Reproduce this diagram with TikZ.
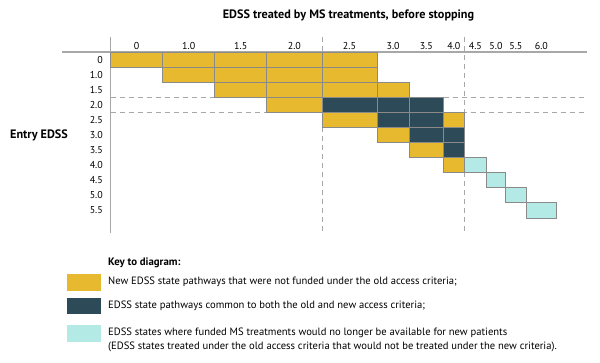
\documentclass[tikz,border=0pt]{standalone}
\usepackage{fontspec}
\setmainfont{PT Sans}
\usetikzlibrary{positioning,calc}
\definecolor{edssgold}{HTML}{E6B92F}
\definecolor{edssnavy}{HTML}{2C4A58}
\definecolor{edssaqua}{HTML}{B4EAE6}
\definecolor{edssedge}{HTML}{8A8A8A}
\definecolor{edssaxis}{HTML}{A8A8A8}
\tikzset{
  goldcell/.style={draw=edssedge, fill=edssgold, line width=0.9pt},
  navycell/.style={draw=edssedge, fill=edssnavy, line width=0.9pt},
  aquacell/.style={draw=edssedge, fill=edssaqua, line width=0.9pt},
  axisline/.style={draw=edssaxis, line width=1.2pt},
  guideline/.style={draw=edssaxis, line width=0.9pt, dash pattern=on 5pt off 4pt},
  collabel/.style={font=\fontsize{10}{11}\selectfont, inner sep=0pt},
  rowlabel/.style={font=\fontsize{10}{11}\selectfont, inner sep=0pt, anchor=east},
  heading/.style={font=\bfseries\fontsize{12.2}{14}\selectfont, inner sep=0pt},
  keyswatch/.style={minimum width=33.4pt, minimum height=16.7pt, inner sep=0pt, outer sep=0pt},
  keytext/.style={font=\fontsize{10.6}{13.4}\selectfont, align=left, inner sep=0pt}
}
\begin{document}
\begin{tikzpicture}[x=1pt, y=-1pt]
\useasboundingbox (0,0) rectangle (600,363);
% column and row edges of the grid
\foreach \x [count=\i from 0] in {110.5,162.7,214.7,266.7,322,377,409.3,443.3,464.5,486.3,505.7,526,556.7}
  \coordinate (c\i) at (\x,0);
\foreach \i in {0,...,11}
  \coordinate (r\i) at (0,{52+15.09*\i});
\coordinate (left) at (62,0);
\coordinate (right) at (587,0);
\coordinate (top) at (0,37);
\coordinate (bottom) at (0,233.5);

% dashed guides
\draw[guideline] (c0|-r3) -- (right|-r3);
\draw[guideline] (c0|-r4) -- (right|-r4);
\draw[guideline] (c4|-top) -- (c4|-bottom);
\draw[guideline] (c8|-top) -- (c8|-bottom);

% axes
\draw[axisline] (left|-r0) -- (right|-r0);
\draw[axisline] (c0|-top) -- (c0|-bottom);

% cells
\foreach \c/\r in {0/0,1/0,2/0,3/0,4/0,1/1,2/1,3/1,4/1,2/2,3/2,4/2,5/2,3/3,4/4,7/4,5/5,6/6,7/7}{
  \pgfmathtruncatemacro{\cc}{\c+1}\pgfmathtruncatemacro{\rr}{\r+1}
  \draw[goldcell] (c\c|-r\r) rectangle (c\cc|-r\rr);
}
\foreach \c/\r in {4/3,5/3,6/3,5/4,6/4,6/5,7/5,7/6}{
  \pgfmathtruncatemacro{\cc}{\c+1}\pgfmathtruncatemacro{\rr}{\r+1}
  \draw[navycell] (c\c|-r\r) rectangle (c\cc|-r\rr);
}
\foreach \c/\r in {8/7,9/8,10/9,11/10}{
  \pgfmathtruncatemacro{\cc}{\c+1}\pgfmathtruncatemacro{\rr}{\r+1}
  \draw[aquacell] (c\c|-r\r) rectangle (c\cc|-r\rr);
}

% axis labels
\foreach \lab [count=\i from 0] in {0,1.0,1.5,2.0,2.5,3.0,3.5,4.0,4.5,5.0,5.5,6.0}{
  \pgfmathtruncatemacro{\j}{\i+1}
  \node[collabel] (col\i) at ($(c\i)!0.5!(c\j)+(0,45.7)$) {\lab};
}
\foreach \lab [count=\i from 0] in {0,1.0,1.5,2.0,2.5,3.0,3.5,4.0,4.5,5.0,5.5}{
  \pgfmathtruncatemacro{\j}{\i+1}
  \node[rowlabel] (row\i) at ($(r\i)!0.5!(r\j)+(103,0)$) {\lab};
}
\node[heading] (title) at (348.5,15.7) {EDSS treated by MS treatments, before stopping};
\node[heading, anchor=west] (entry) at (10,135.7) {Entry EDSS};

% key
\node[heading, font=\bfseries\fontsize{10.8}{12}\selectfont, anchor=west] (keyhead) at (108,263) {Key to diagram:};
\node[keyswatch, fill=edssgold] (keygold) at (84,282.3) {};
\node[keytext, right=7.3pt of keygold] (keygoldtext) {New EDSS state pathways that were not funded under the old access criteria;};
\node[keyswatch, fill=edssnavy] (keynavy) at (84,306) {};
\node[keytext, right=7.3pt of keynavy] (keynavytext) {EDSS state pathways common to both the old and new access criteria;};
\node[keyswatch, fill=edssaqua] (keyaqua) at (84,333.3) {};
\node[keytext, right=7.3pt of keyaqua, yshift=-6.7pt] (keyaquatext) {EDSS states where funded MS treatments would no longer be available for new patients\\(EDSS states treated under the old access criteria that would not be treated under the new criteria).};
\end{tikzpicture}
\end{document}
